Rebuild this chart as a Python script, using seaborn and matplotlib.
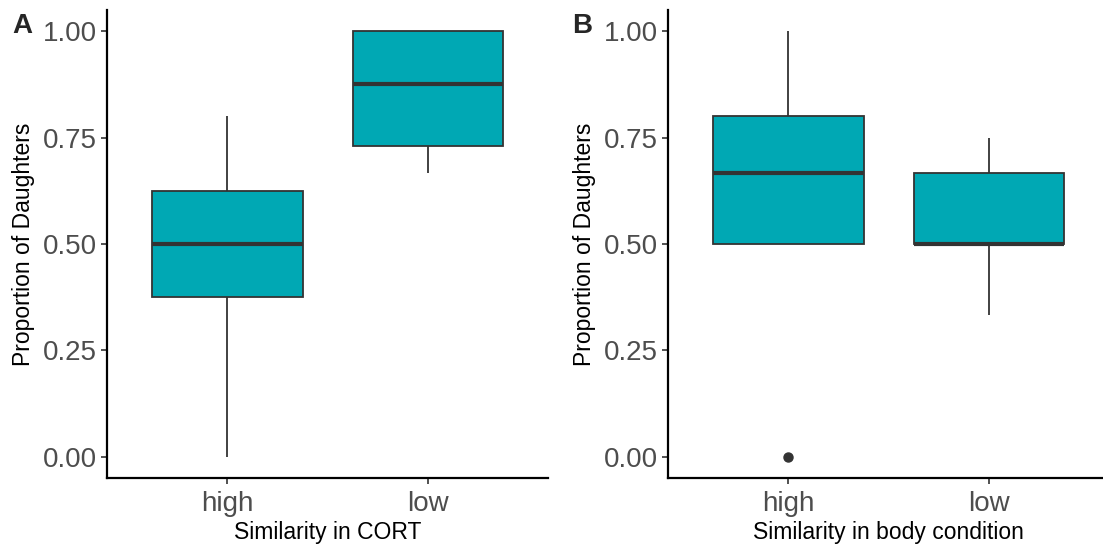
import numpy as np
import pandas as pd
import matplotlib
matplotlib.use("Agg")
import matplotlib.pyplot as plt
import seaborn as sns

# ---- data (values per group) ----
cort_high = [0.0, 0.375, 0.5, 0.625, 0.8]
cort_low = [2/3, 0.75, 1.0, 1.0]
body_high = [0.0, 0.5, 0.5, 2/3, 0.8, 0.8, 1.0]
body_low = [1/3, 0.5, 0.5, 2/3, 0.75]
categories = ["high", "low"]
panel_labels = ["A", "B"]
x_titles = ["Similarity in CORT", "Similarity in body condition"]
y_title = "Proportion of Daughters"
y_ticks = [0.0, 0.25, 0.5, 0.75, 1.0]
y_ticklabels = ["0.00", "0.25", "0.50", "0.75", "1.00"]

df_a = pd.DataFrame({
    "group": ["high"] * len(cort_high) + ["low"] * len(cort_low),
    "prop": cort_high + cort_low,
})
df_b = pd.DataFrame({
    "group": ["high"] * len(body_high) + ["low"] * len(body_low),
    "prop": body_high + body_low,
})

sns.set_theme(style="ticks")
plt.rcParams["font.family"] = ["Liberation Sans", "DejaVu Sans"]

FILL = "#00A8B4"
EDGE = "#333333"
TICKCOL = "#4D4D4D"

fig = plt.figure(figsize=(11.03, 5.47), dpi=100)
ax_a = fig.add_axes([0.097, 0.126, 0.400, 0.856])
ax_b = fig.add_axes([0.6056, 0.126, 0.400, 0.856])

for ax, df, xt, lab in zip([ax_a, ax_b], [df_a, df_b], x_titles, panel_labels):
    sns.boxplot(
        data=df, x="group", y="prop", order=categories, ax=ax,
        color=FILL, saturation=1, width=0.75, linecolor=EDGE, linewidth=1.3,
        showcaps=False,
        medianprops=dict(color=EDGE, linewidth=3.0),
        flierprops=dict(marker="o", markersize=6.5, markerfacecolor=EDGE,
                        markeredgecolor=EDGE),
    )
    ax.set_xlim(-0.6, 1.6)
    ax.set_ylim(-0.05, 1.05)
    ax.set_yticks(y_ticks)
    ax.set_yticklabels(y_ticklabels)
    ax.set_xlabel(xt, fontsize=16.5, color="black", labelpad=3)
    ax.set_ylabel(y_title, fontsize=16.5, color="black", labelpad=6)
    ax.tick_params(axis="both", labelsize=20, labelcolor=TICKCOL, color=EDGE,
                   length=4, width=1.2, direction="out", pad=3)
    ax.tick_params(axis="x", pad=5)
    for s in ["top", "right"]:
        ax.spines[s].set_visible(False)
    for s in ["left", "bottom"]:
        ax.spines[s].set_linewidth(1.6)
        ax.spines[s].set_color("black")
    ax.set_facecolor("white")

fig.text(0.011, 0.953, "A", fontsize=20, fontweight="bold", ha="left", va="center")
fig.text(0.519, 0.953, "B", fontsize=20, fontweight="bold", ha="left", va="center")

fig.savefig("out.png", dpi=100, facecolor="white")
